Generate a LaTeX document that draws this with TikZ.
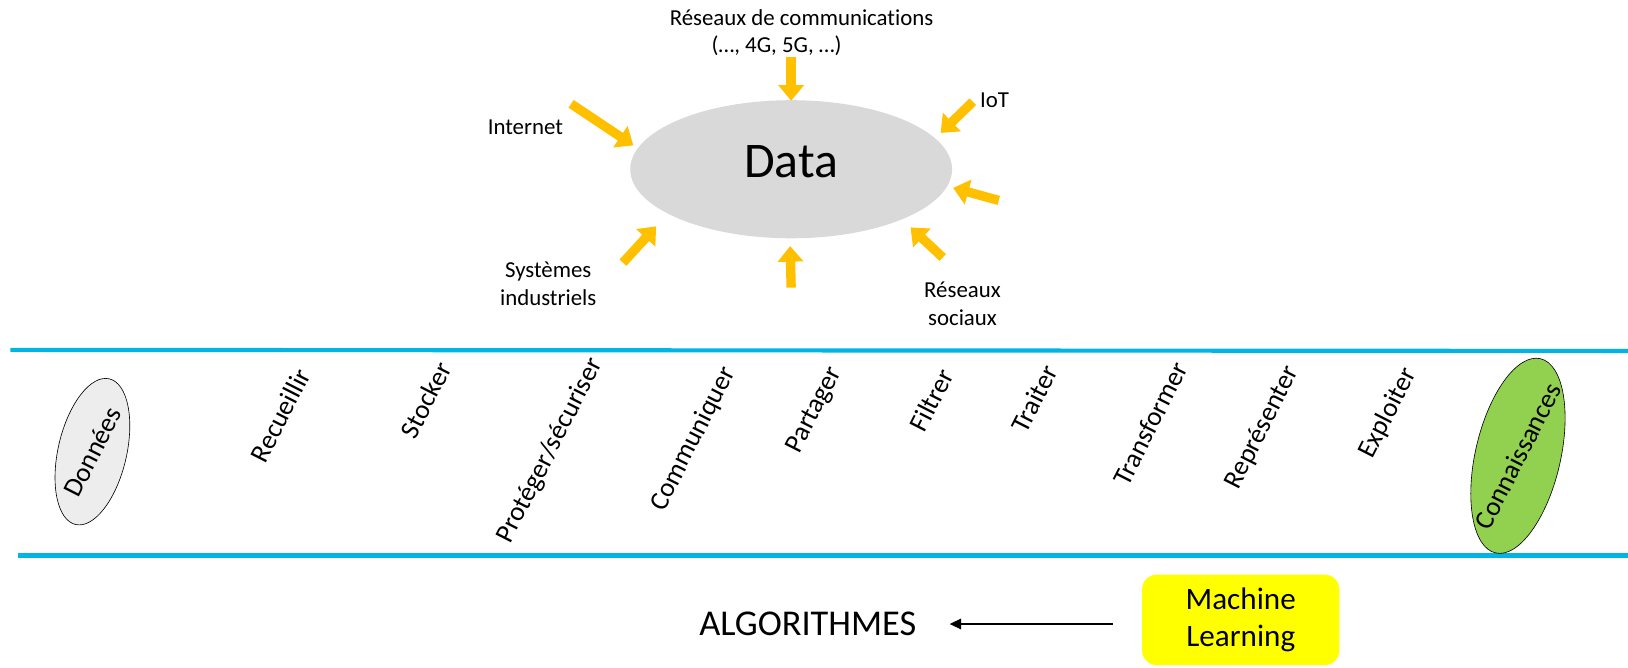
\documentclass[tikz,border=0pt]{standalone}
\usepackage{fontspec}
\setmainfont{Carlito}[Ligatures=NoCommon]
\usetikzlibrary{arrows.meta,shapes.geometric}
\definecolor{datagray}{RGB}{217,217,217}
\definecolor{dongray}{RGB}{237,237,237}
\definecolor{arrowgold}{RGB}{255,192,0}
\definecolor{linecyan}{RGB}{0,180,228}
\definecolor{knowgreen}{RGB}{146,208,80}
\definecolor{mlyellow}{RGB}{255,255,0}
\begin{document}
\begin{tikzpicture}[x=1pt,y=-1pt,
  feed/.style={draw=arrowgold, line width=9pt, line cap=butt, -{Triangle[length=15pt,width=24pt]}},
  lbl/.style={font=\fontsize{22}{27}\selectfont, align=center, inner sep=0},
  proc/.style={font=\fontsize{26}{30}\selectfont, rotate=63, inner sep=0},
  band/.style={draw=linecyan, line width=4pt},
  blob/.style={ellipse, draw=black, line width=0.6pt, inner sep=0, rotate=77},
]
\useasboundingbox (0,0) rectangle (1568,643);

% Data ellipse and feeds
\node (data) [ellipse, fill=datagray, minimum width=310, minimum height=133, inner sep=0] at (762,163) {};
\node (datatxt) [font=\fontsize{48}{56}\selectfont, inner sep=0] at ([yshift=7pt]data.center) {Data};

\node (reseaux) [lbl] at (772,17) {Réseaux de communications};
\node (reseaux2) [lbl] at (748,44) {(…, 4G, 5G, …)};
\node (internet) [lbl] at (506,123) {Internet};
\node (iot) [lbl] at (958,97) {IoT};
\node (systemes) [lbl] at (528,273) {Systèmes\\industriels};
\node (sociaux) [lbl] at (927,293) {Réseaux\\sociaux};

\coordinate (a1s) at (762,55);  \coordinate (a1e) at (762,97);
\coordinate (a2s) at (550,100); \coordinate (a2e) at (610,140);
\coordinate (a3s) at (937,98);  \coordinate (a3e) at (906,128);
\coordinate (a4s) at (962,193); \coordinate (a4e) at (918,181);
\coordinate (a5s) at (908,248); \coordinate (a5e) at (877,219);
\coordinate (a6s) at (762,277); \coordinate (a6e) at (761,237);
\coordinate (a7s) at (600,253); \coordinate (a7e) at (632,218);
\foreach \i in {1,...,7} \draw[feed] (a\i s) -- (a\i e);

% Band
\coordinate (tl) at (10,337);  \coordinate (tr) at (1568,338);
\coordinate (bl) at (17,535);  \coordinate (br) at (1568,535);
\draw[band] (tl) -- (tr);
\draw[band] (bl) -- (br);

\node (donnees) [blob, fill=dongray, minimum width=144, minimum height=66] at (89,435) {};
\node [proc] at (donnees.center) {Données};
\node (recueillir) [proc] at (270,400) {Recueillir};
\node (stocker) [proc] at (410,385) {Stocker};
\node (proteger) [proc] at (530,434) {Protéger/sécuriser};
\node (communiquer) [proc] at (668,423) {Communiquer};
\node (partager) [proc] at (785,395) {Partager};
\node (filtrer) [proc] at (897,385) {Filtrer};
\node (traiter) [proc] at (996,384) {Traiter};
\node (transformer) [proc] at (1108,408) {Transformer};
\node (representer) [proc] at (1216,412) {Représenter};
\node (exploiter) [proc] at (1337,398) {Exploiter};
\node (conn) [blob, fill=knowgreen, minimum width=192, minimum height=82] at (1462,439) {};
\node [proc] at (conn.center) {Connaissances};

% Bottom
\node (ml) [fill=mlyellow, rounded corners=14pt, minimum width=190, minimum height=87, align=center, inner sep=0, font=\fontsize{30}{35.5}\selectfont] at (1195,597) {Machine\\Learning};
\node (algo) [font=\fontsize{35}{40}\selectfont, inner sep=0] at (778,601) {ALGORITHMES};
\draw[line width=1.5pt, -{Triangle[length=11pt,width=10pt]}, shorten <=28pt, shorten >=32pt] (ml.west |- algo.east) -- (algo.east);
\end{tikzpicture}
\end{document}
